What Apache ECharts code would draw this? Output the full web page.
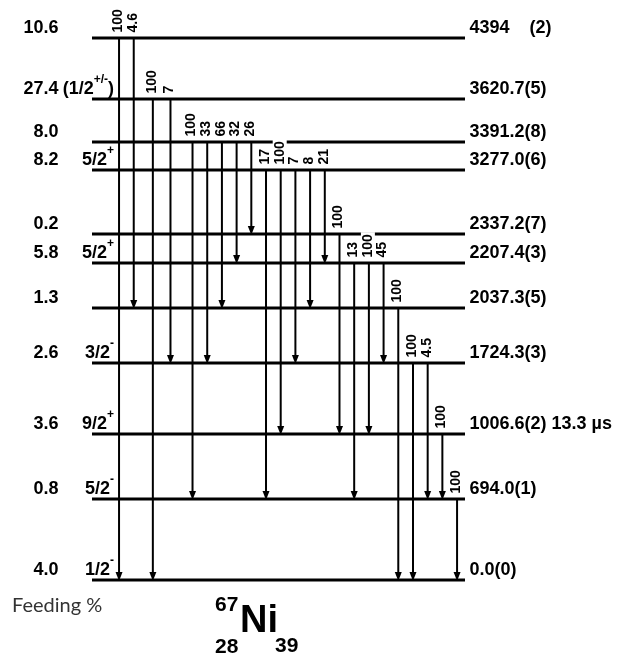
<!DOCTYPE html>
<html><head><meta charset="utf-8">
<script src="https://cdn.jsdelivr.net/npm/echarts@6/dist/echarts.min.js"></script>
<style>html,body{margin:0;padding:0;background:#fff}#c{width:620px;height:659px}</style>
</head><body><div id="c"></div>
<script>
// ---- Levels of 67Ni (bottom to top) ----
const levelEnergy = [0.0, 694.0, 1006.6, 1724.3, 2037.3, 2207.4, 2337.2, 3277.0, 3391.2, 3620.7, 4394];
const levelLabel = ['0.0(0)', '694.0(1)', '1006.6(2) 13.3 µs', '1724.3(3)', '2037.3(5)', '2207.4(3)', '2337.2(7)', '3277.0(6)', '3391.2(8)', '3620.7(5)', '4394    (2)'];
// schematic vertical slot of each level in the drawing (not proportional to energy)
const levelRow = [0, 8.1, 14.6, 21.7, 27.2, 31.7, 34.6, 41.0, 43.8, 48.1, 54.2];
const feeding = ['4.0', '0.8', '3.6', '2.6', '1.3', '5.8', '0.2', '8.2', '8.0', '27.4', '10.6'];
const spinBase = ['1/2', '5/2', '9/2', '3/2', '', '5/2', '', '5/2', '', '(1/2', ''];
const spinParity = ['-', '-', '+', '-', '', '+', '', '+', '', '+/-', ''];
const spinClose = ['', '', '', '', '', '', '', '', '', ')', ''];

// ---- Gamma transitions ----
const gFrom = [10, 10, 9, 9, 8, 8, 8, 8, 8, 7, 7, 7, 7, 7, 6, 5, 5, 5, 4, 3, 3, 2, 1];
const gTo   = [0, 4, 0, 3, 1, 3, 4, 5, 6, 1, 2, 3, 4, 5, 2, 1, 2, 3, 0, 0, 1, 1, 0];
const gIntensity = ['100', '4.6', '100', '7', '100', '33', '66', '32', '26', '17', '100', '7', '8', '21', '100', '13', '100', '45', '100', '100', '4.5', '100', '100'];
const gColumn = [0, 1, 2.3, 3.5, 5, 6, 7, 8, 9, 10, 11, 12, 13, 14, 15, 16, 17, 18, 19, 20, 21, 22, 23];

const nuclide = { mass: '67', symbol: 'Ni', Z: '28', N: '39' };
const feedingTitle = 'Feeding %';

const FONT = '"Liberation Sans", Arial, Helvetica, sans-serif';
const chart = echarts.init(document.getElementById('c'), null, { renderer: 'canvas' });

const levelData = levelRow.map((r, i) => [0, r, i]);
const gammaData = gColumn.map((c, k) => [c, levelRow[gFrom[k]], levelRow[gTo[k]], k]);

function renderLevel(params, api) {
  const cs = params.coordSys;
  const i = api.value(2);
  const y = api.coord([0, api.value(1)])[1];
  const x0 = cs.x, x1 = cs.x + cs.width;
  const children = [
    { type: 'line', shape: { x1: x0, y1: y, x2: x1, y2: y }, style: { stroke: '#000', lineWidth: 3 } },
    { type: 'text', x: x0 - 33.5, y: y - 9.5, style: { text: feeding[i], textAlign: 'right', textVerticalAlign: 'middle', font: 'bold 18px ' + FONT, fill: '#000' } },
    { type: 'text', x: x1 + 4.5, y: y - 9.5, style: { text: levelLabel[i], textAlign: 'left', textVerticalAlign: 'middle', font: 'bold 18px ' + FONT, fill: '#000' } }
  ];
  if (spinBase[i]) {
    let t = '{b|' + spinBase[i] + '}{s|' + spinParity[i] + '}';
    if (spinClose[i]) t += '{b|' + spinClose[i] + '}';
    children.push({
      type: 'text', x: x0 + 22, y: y - 9.5,
      style: {
        text: t, textAlign: 'right', textVerticalAlign: 'middle', fill: '#000',
        rich: {
          b: { font: 'bold 18px ' + FONT, lineHeight: 31, fill: '#000' },
          s: { font: 'bold 12px ' + FONT, lineHeight: 13, verticalAlign: 'top', fill: '#000' }
        }
      }
    });
  }
  return { type: 'group', children };
}

function renderGamma(params, api) {
  const k = api.value(3);
  const top = api.coord([api.value(0), api.value(1)]);
  const bot = api.coord([api.value(0), api.value(2)]);
  const x = top[0];
  const yb = bot[1];
  return {
    type: 'group',
    children: [
      { type: 'line', shape: { x1: x, y1: top[1], x2: x, y2: yb - 6 }, style: { stroke: '#000', lineWidth: 2 } },
      { type: 'polygon', shape: { points: [[x - 3.5, yb - 8], [x + 3.5, yb - 8], [x, yb + 1]] }, style: { fill: '#000' } },
      { type: 'text', x: x - 1, y: top[1] - 5.5, rotation: Math.PI / 2, z2: 20,
        style: { text: gIntensity[k], textAlign: 'left', textVerticalAlign: 'middle', font: 'bold 14px ' + FONT, fill: '#000', backgroundColor: '#fff', padding: [0, 2, 0, 0] } }
    ]
  };
}

chart.setOption({
  animation: false,
  backgroundColor: '#fff',
  grid: { left: 92, right: 155, top: 38, bottom: 79 },
  xAxis: { type: 'value', min: -1.84, max: 23.54, show: false },
  yAxis: { type: 'value', min: 0, max: 54.2, show: false },
  series: [
    { type: 'custom', name: 'levels', renderItem: renderLevel, data: levelData, encode: { x: 0, y: 1 }, clip: false, z: 1 },
    { type: 'custom', name: 'gammas', renderItem: renderGamma, data: gammaData, encode: { x: 0, y: [1, 2] }, clip: false, z: 2 }
  ],
  graphic: [
    { type: 'text', x: 12, y: 606, style: { text: feedingTitle, textAlign: 'left', textVerticalAlign: 'middle', font: '20px Lato, "Noto Sans", sans-serif', fill: '#333' } },
    { type: 'text', x: 215, y: 605, style: { text: nuclide.mass, textAlign: 'left', textVerticalAlign: 'middle', font: 'bold 21px ' + FONT, fill: '#000' } },
    { type: 'text', x: 240, y: 621.5, style: { text: nuclide.symbol, textAlign: 'left', textVerticalAlign: 'middle', font: 'bold 38px ' + FONT, fill: '#000' } },
    { type: 'text', x: 215, y: 647, style: { text: nuclide.Z, textAlign: 'left', textVerticalAlign: 'middle', font: 'bold 21px ' + FONT, fill: '#000' } },
    { type: 'text', x: 275, y: 646, style: { text: nuclide.N, textAlign: 'left', textVerticalAlign: 'middle', font: 'bold 21px ' + FONT, fill: '#000' } }
  ]
});
</script>
</body></html>
